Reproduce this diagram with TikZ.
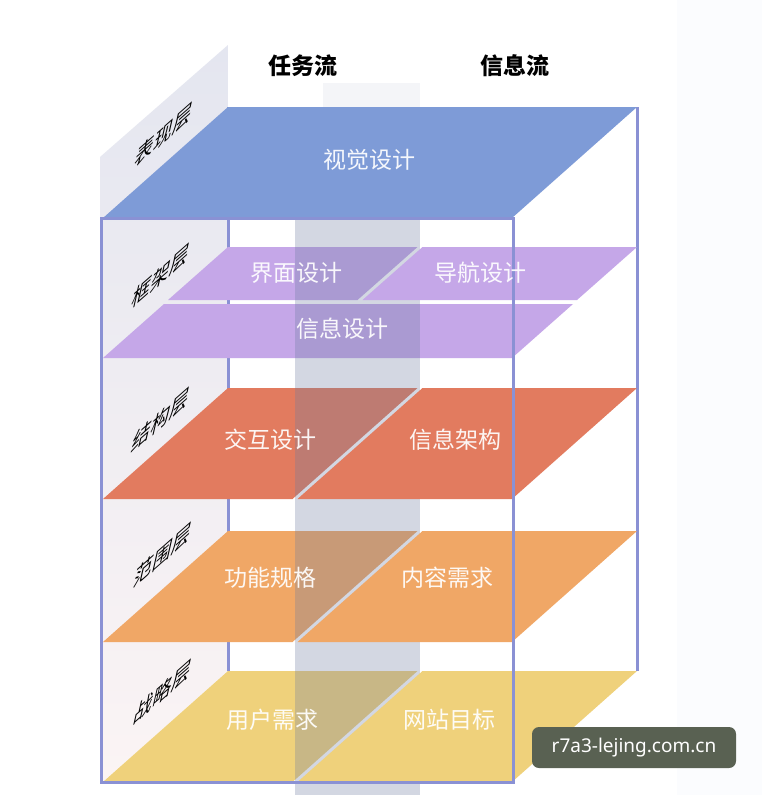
\documentclass[tikz,border=0pt]{standalone}
\usepackage{fontspec}
\newfontfamily\cjk{Noto Sans CJK SC}
\newfontfamily\wmfont{Noto Sans}
\definecolor{cBlue}{HTML}{7E9BD7}
\definecolor{cPurple}{HTML}{C5A7E8}
\definecolor{cRed}{HTML}{E27B5F}
\definecolor{cOrange}{HTML}{F0A766}
\definecolor{cYellow}{HTML}{EFD17B}
\definecolor{frameC}{HTML}{8A91D4}
\definecolor{bandC}{HTML}{6E7DA0}
\definecolor{sideT}{HTML}{E4E6F0}
\definecolor{sideB}{HTML}{FBF4F4}
\definecolor{bgR}{HTML}{FBFCFE}
\definecolor{wmC}{HTML}{596152}
\tikzset{
  frame/.style={draw=frameC, line width=3pt},
  lbl/.style={text=white, text opacity=0.93, font=\cjk\fontsize{23}{23}\selectfont, inner sep=0pt},
  hdr/.style={text=black, font=\cjk\bfseries\fontsize{23}{23}\selectfont, inner sep=0pt},
  sidelbl/.style={text=black, font=\cjk\fontsize{25}{25}\selectfont, inner sep=0pt, cm={0.75,0.66,0.22,0.97,(0,0)}},
  wm/.style={fill=wmC, rounded corners=7pt, text=white, font=\wmfont\fontsize{19}{19}\selectfont, minimum width=204pt, minimum height=41pt, inner sep=0pt}
}
\begin{document}
\begin{tikzpicture}[x=1pt,y=-1pt]
\useasboundingbox (0,0) rectangle (762,795);
\fill[white] (0,0) rectangle (762,795);
\fill[bgR] (677,0) rectangle (762,795);
% left side face
\shade[top color=sideT, bottom color=sideB] (100,157) -- (228,45) -- (228,671) -- (103,782) -- cycle;
% back part of divider plane
\fill[bandC, opacity=0.07] (323,83) rectangle (420,220);
% back edges
\draw[frame] (228,107) -- (228,671);
\draw[frame] (637,107) -- (637,671);
% presentation layer
\fill[cBlue] (228,107) -- (637,107) -- (512,218) -- (103,218) -- cycle;
% framework layer
\fill[cPurple] (228,247) -- (417.5,247) -- (357.5,300) -- (168,300) -- cycle;
\fill[cPurple] (164,304) -- (573,304) -- (512,358) -- (103,358) -- cycle;
% structure / scope / strategy left pieces
\fill[cRed] (228,388) -- (417.5,388) -- (292.5,499) -- (103,499) -- cycle;
\fill[cOrange] (228,531) -- (417.5,531) -- (292.5,642) -- (103,642) -- cycle;
\fill[cYellow] (228,671) -- (417.5,671) -- (292.5,782) -- (103,782) -- cycle;
% divider plane
\fill[bandC, opacity=0.3] (295,218) rectangle (420,795);
% right pieces
\fill[cPurple] (422.5,247) -- (637,247) -- (577,300) -- (362.5,300) -- cycle;
\fill[cRed] (422.5,388) -- (637,388) -- (512,499) -- (297.5,499) -- cycle;
\fill[cOrange] (422.5,531) -- (637,531) -- (512,642) -- (297.5,642) -- cycle;
\fill[cYellow] (422.5,671) -- (637,671) -- (512,782) -- (297.5,782) -- cycle;
% front frame
\draw[frame] (101,218) rectangle (513,782);
% headers
\node[hdr] (h1) at (303,66) {任务流};
\node[hdr] (h2) at (515,66) {信息流};
% plane labels
\node[lbl] (t1) at (369,160) {视觉设计};
\node[lbl] (t2) at (296,273) {界面设计};
\node[lbl] (t3) at (480,273) {导航设计};
\node[lbl] (t4) at (342,329) {信息设计};
\node[lbl] (t5) at (270,440) {交互设计};
\node[lbl] (t6) at (455,440) {信息架构};
\node[lbl] (t7) at (270,578) {功能规格};
\node[lbl] (t8) at (447,578) {内容需求};
\node[lbl] (t9) at (272,720) {用户需求};
\node[lbl] (t10) at (449,720) {网站目标};
% side labels
\begin{scope}[shift={(164,135)}]\node[sidelbl] (s1) at (0,0) {表现层};\end{scope}
\begin{scope}[shift={(161,276)}]\node[sidelbl] (s2) at (0,0) {框架层};\end{scope}
\begin{scope}[shift={(161,420)}]\node[sidelbl] (s3) at (0,0) {结构层};\end{scope}
\begin{scope}[shift={(163,555)}]\node[sidelbl] (s4) at (0,0) {范围层};\end{scope}
\begin{scope}[shift={(163,692)}]\node[sidelbl] (s5) at (0,0) {战略层};\end{scope}
% watermark
\node[wm] (wmark) at (634,747.5) {r7a3-lejing.com.cn};
\end{tikzpicture}
\end{document}
